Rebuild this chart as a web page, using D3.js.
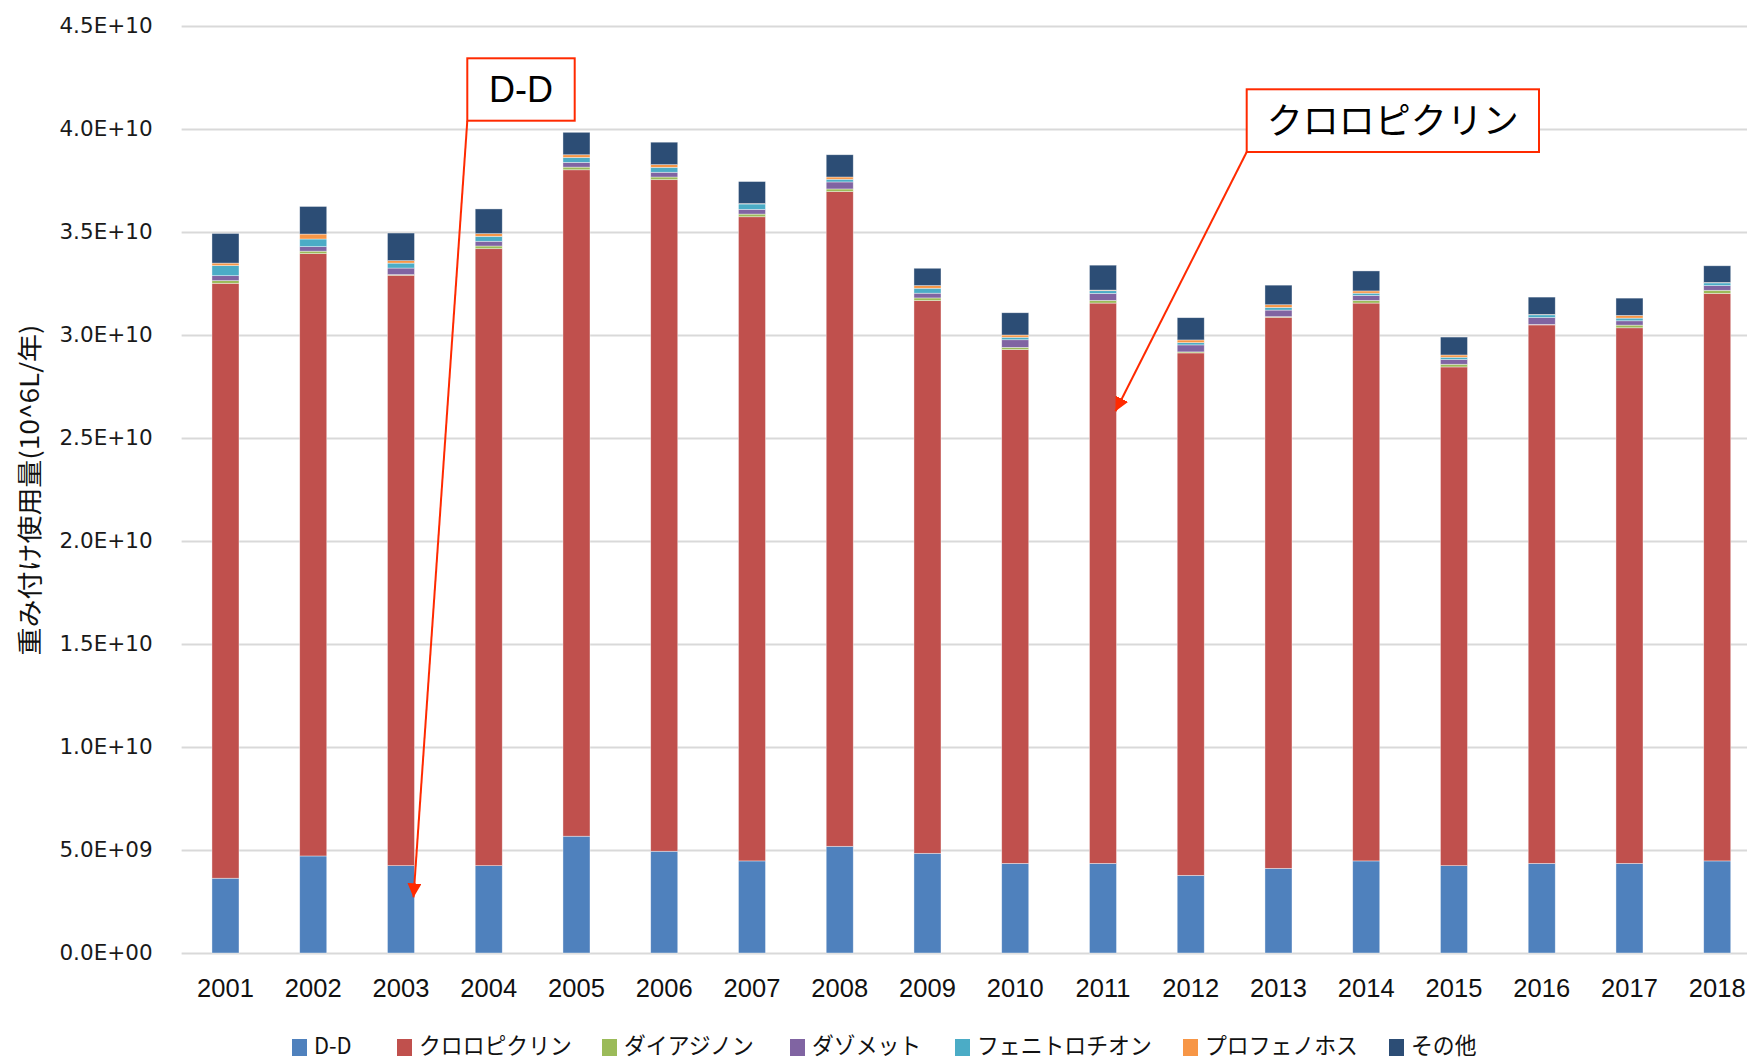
<!DOCTYPE html>
<html lang="ja">
<head>
<meta charset="utf-8">
<script src="https://cdn.jsdelivr.net/npm/d3@7"></script>
<style>
  html, body { margin: 0; padding: 0; background: #fff; overflow: hidden; }
  svg { display: block; }
</style>
</head>
<body>
<svg id="chart" width="1747" height="1062"></svg>
<script>
// 年次（横軸カテゴリ）
const years = ["2001","2002","2003","2004","2005","2006","2007","2008","2009",
               "2010","2011","2012","2013","2014","2015","2016","2017","2018"];

// 系列名（凡例の並び順 = 積み上げ順）
const seriesNames = ["D-D","クロロピクリン","ダイアジノン","ダゾメット","フェニトロチオン","プロフェノホス","その他"];

// 各系列の重み付け使用量（単位: 1E+09）
const ddValues        = [3.63,4.71,4.24,4.24,5.67,4.94,4.47,5.18,4.84,4.35,4.35,3.77,4.11,4.47,4.24,4.35,4.35,4.47];
const chloroValues    = [28.88,29.24,28.66,29.95,32.35,32.60,31.27,31.78,26.83,24.94,27.20,25.36,26.75,27.08,24.21,26.14,26.00,27.55];
const diazinonValues  = [0.13,0.12,0.03,0.13,0.13,0.13,0.13,0.13,0.13,0.11,0.13,0.05,0.03,0.13,0.13,0.02,0.13,0.15];
const dazometValues   = [0.24,0.22,0.32,0.23,0.23,0.23,0.23,0.34,0.23,0.37,0.34,0.34,0.32,0.24,0.23,0.34,0.21,0.23];
const fenitroValues   = [0.49,0.37,0.24,0.24,0.24,0.24,0.26,0.13,0.24,0.12,0.13,0.11,0.13,0.11,0.11,0.13,0.13,0.13];
const profenoValues   = [0.12,0.24,0.12,0.13,0.13,0.13,0.02,0.11,0.13,0.11,0.03,0.13,0.13,0.11,0.11,0.02,0.13,0.02];
const otherValues     = [1.44,1.34,1.34,1.20,1.09,1.09,1.07,1.08,0.84,1.08,1.21,1.08,0.95,0.97,0.87,0.84,0.84,0.81];

// 縦軸の目盛り値
const yTicks = [0, 5e9, 10e9, 15e9, 20e9, 25e9, 30e9, 35e9, 40e9, 45e9];

// 注記（指し示す年と値）
const calloutLabels = ["D-D", "クロロピクリン"];
const calloutYears  = ["2003", "2011"];
const calloutValues = [2.7e9, 26.3e9];

const colors = ["#4F81BD","#C0504D","#9BBB59","#8064A2","#4BACC6","#F79646","#2C4D75"];

const unit = 1e9;
const seriesValues = [ddValues, chloroValues, diazinonValues, dazometValues, fenitroValues, profenoValues, otherValues];
const table = years.map((yr, i) => {
  const row = { year: yr };
  seriesNames.forEach((s, k) => { row[s] = seriesValues[k][i] * unit; });
  return row;
});

const svg = d3.select("#chart");

// 描画領域（右端は画面外まで続く）
const plotLeft = 181.6, step = 87.75;
const plotRight = plotLeft + step * years.length;
const plotTop = 26, plotBottom = 953;

const x = d3.scaleBand()
  .domain(years)
  .range([plotLeft, plotRight])
  .paddingInner(0.692)
  .paddingOuter(0.346);

const y = d3.scaleLinear()
  .domain([0, 45e9])
  .range([plotBottom, plotTop]);

const sciFormat = v => {
  if (v === 0) return "0.0E+00";
  const e = Math.floor(Math.log10(v));
  const m = v / Math.pow(10, e);
  return m.toFixed(1) + "E+" + String(e).padStart(2, "0");
};

// 目盛り線と目盛りラベル
const yAxis = d3.axisLeft(y)
  .tickValues(yTicks)
  .tickSize(-(plotRight - plotLeft))
  .tickPadding(29)
  .tickFormat(sciFormat);

const gy = svg.append("g")
  .attr("transform", `translate(${plotLeft},0)`)
  .call(yAxis);
gy.select(".domain").remove();
gy.selectAll(".tick line")
  .attr("stroke", "#d9d9d9")
  .attr("stroke-width", 2);
gy.selectAll(".tick text")
  .attr("fill", "#1a1a1a")
  .style("font-family", "'DejaVu Sans', Verdana, sans-serif")
  .style("font-size", "21.5px");

// 積み上げ棒
const stack = d3.stack().keys(seriesNames);
const layers = stack(table);

svg.append("g")
  .selectAll("g")
  .data(layers)
  .join("g")
  .attr("fill", (d, i) => colors[i])
  .selectAll("rect")
  .data(d => d)
  .join("rect")
  .attr("x", d => x(d.data.year))
  .attr("width", x.bandwidth())
  .attr("y", d => y(d[1]))
  .attr("height", d => Math.max(0, y(d[0]) - y(d[1])))
  .attr("stroke", "#ffffff")
  .attr("stroke-opacity", 0.55)
  .attr("stroke-width", 0.7);

// 横軸ラベル
const xAxis = d3.axisBottom(x).tickSize(0).tickPadding(26);
const gx = svg.append("g")
  .attr("transform", `translate(0,${plotBottom})`)
  .call(xAxis);
gx.select(".domain").remove();
gx.selectAll(".tick text")
  .attr("fill", "#111")
  .style("font-family", "'Liberation Sans', Arial, sans-serif")
  .style("font-size", "25.5px");

// 縦軸タイトル
svg.append("text")
  .attr("transform", "translate(39,490) rotate(-90) scale(1,0.9)")
  .attr("text-anchor", "middle")
  .attr("fill", "#111")
  .style("font-family", "'Noto Sans CJK JP', sans-serif")
  .style("font-size", "28px")
  .text("重み付け使用量(10^6L/年)");

// 注記（枠と矢印）
const defs = svg.append("defs");
defs.append("marker")
  .attr("id", "arrowHead")
  .attr("viewBox", "0 0 10 10")
  .attr("refX", 10).attr("refY", 5)
  .attr("markerWidth", 7).attr("markerHeight", 7)
  .attr("markerUnits", "strokeWidth")
  .attr("orient", "auto")
  .append("path")
  .attr("d", "M0,0 L10,5 L0,10 Z")
  .attr("fill", "#FF2A00");

const callouts = [
  { box: [467.3, 58.3, 107.4, 62.4], fontSize: 36, family: "'Liberation Sans', Arial, sans-serif" },
  { box: [1246.7, 89.3, 292.3, 62.7], fontSize: 36, family: "'Noto Sans CJK JP', sans-serif" }
];

callouts.forEach((c, i) => {
  const [bx, by, bw, bh] = c.box;
  const tipX = x(calloutYears[i]) + x.bandwidth() - 1;
  const tipY = y(calloutValues[i]);
  const g = svg.append("g");
  g.append("line")
    .attr("x1", bx).attr("y1", by + bh)
    .attr("x2", tipX).attr("y2", tipY)
    .attr("stroke", "#FF2A00")
    .attr("stroke-width", 2)
    .attr("marker-end", "url(#arrowHead)");
  g.append("rect")
    .attr("x", bx).attr("y", by)
    .attr("width", bw).attr("height", bh)
    .attr("fill", "#fff")
    .attr("stroke", "#FF2A00")
    .attr("stroke-width", 2);
  g.append("text")
    .attr("x", bx + bw / 2)
    .attr("y", by + bh / 2)
    .attr("dy", "0.36em")
    .attr("text-anchor", "middle")
    .attr("fill", "#000")
    .style("font-family", c.family)
    .style("font-size", c.fontSize + "px")
    .text(calloutLabels[i]);
});

// 凡例（各項目の左端位置）
const legendX = [292, 397, 602, 790, 955, 1183, 1389];
const legend = svg.append("g").attr("transform", "translate(0,1046)");
seriesNames.forEach((name, i) => {
  const item = legend.append("g").attr("transform", `translate(${legendX[i]},0)`);
  item.append("rect")
    .attr("x", 0).attr("y", -7)
    .attr("width", 15).attr("height", 17)
    .attr("fill", colors[i]);
  item.append("text")
    .attr("transform", "translate(22,0) scale(0.95,1)")
    .attr("dy", "0.33em")
    .attr("fill", "#111")
    .style("font-family", "'Noto Sans CJK JP', sans-serif")
    .style("font-size", "23px")
    .text(name);
});
</script>
</body>
</html>
